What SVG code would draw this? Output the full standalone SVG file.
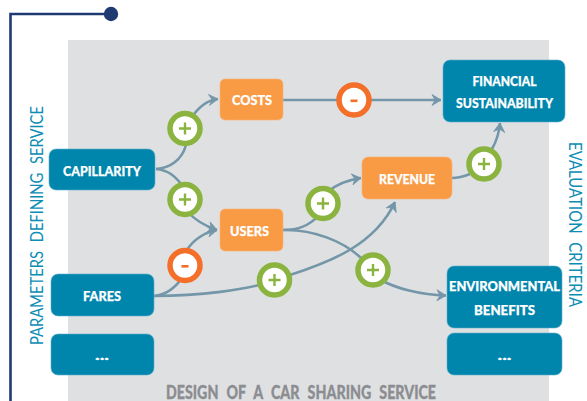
<svg xmlns="http://www.w3.org/2000/svg" width="587" height="401" viewBox="0 0 587 401">
<style>
text{font-family:"Lato","Open Sans","Liberation Sans",sans-serif;text-anchor:middle}
.b{fill:#0085ad;stroke:#5fb0cb;stroke-width:.6}
.o{fill:#f99a45;stroke:#fbb47a;stroke-width:.6}
.t{fill:#fff;stroke:#fff;stroke-width:.25;font-weight:900;font-size:14px}
.c{fill:none;stroke:#7396a8;stroke-width:2.6}
.a{fill:none;stroke:#7396a8;stroke-width:2.6;marker-end:url(#arr)}
.p{fill:#fff;stroke:#8ab43f;stroke-width:5.5}
.m{fill:#fff;stroke:#f36f2a;stroke-width:5.5}
.s{fill:#8ab43f}
.n{fill:#f36f2a}
.side{fill:#0e8db4;font-size:18px;word-spacing:6px}
</style>
<defs>
<marker id="arr" markerUnits="userSpaceOnUse" markerWidth="14" markerHeight="16" refX="11" refY="7" orient="auto" viewBox="0 0 14 14">
<path d="M2 1.500L11 7L2 12.500L5 7Z" fill="#7396a8" stroke="#7396a8" stroke-width=".8"/>
</marker>
</defs>
<rect x="68" y="40" width="481" height="361" fill="#dfe0e2"/>
<path d="M10.500 401V14H110" fill="none" stroke="#1f3a73" stroke-width="2.600"/>
<circle cx="111" cy="14" r="7.200" fill="#1f3a73"/>
<text transform="translate(43 225.500) rotate(-90)" class="side" textLength="239" lengthAdjust="spacingAndGlyphs">PARAMETERS DEFINING SERVICE</text>
<text transform="translate(569 224.500) rotate(90)" class="side" textLength="165" lengthAdjust="spacingAndGlyphs">EVALUATION CRITERIA</text>
<text x="301" y="398.500" fill="#8b8d91" stroke="#8b8d91" stroke-width=".3" font-weight="900" font-size="18" word-spacing="6" textLength="270" lengthAdjust="spacingAndGlyphs">DESIGN OF A CAR SHARING SERVICE</text>
<g id="connectors">
<path class="c" d="M156 169C170 168 182 160 186 145"/>
<path class="a" d="M190 120C198 107 208 100 218 99"/>
<path class="c" d="M156 169C167 170 176 175 185 190"/>
<path class="a" d="M188 212C195 220 205 226 217 230"/>
<path class="c" d="M154 296C165 295 175 288 182 278"/>
<path class="a" d="M187 250C193 240 205 232 217 230"/>
<path class="c" d="M154 296C200 296 245 290 274 281L290 275"/>
<path class="a" d="M290 275C330 262 375 245 395 202"/>
<path class="c" d="M283 230C298 230 310 225 318 216"/>
<path class="a" d="M328 192C336 184 348 180 361 178"/>
<path class="c" d="M283 230C310 229 345 240 365 262"/>
<path class="a" d="M381 280C395 288 420 295 446 295.500"/>
<path class="c" d="M283 100H340"/>
<path class="a" d="M368 100H441"/>
<path class="c" d="M452 178C460 178 465 176 470 174"/>
<path class="a" d="M492 149C496 142 499 134 500 123"/>
</g>
<g id="capillarity"><rect class="b" x="49" y="149" width="106" height="41" rx="7"/><text class="t" x="102" y="175.500" textLength="78" lengthAdjust="spacingAndGlyphs">CAPILLARITY</text></g>
<g id="costs"><rect class="o" x="220" y="79" width="63" height="41" rx="5"/><text class="t" x="252" y="105" textLength="40" lengthAdjust="spacingAndGlyphs">COSTS</text></g>
<g id="financial"><rect class="b" x="443" y="60" width="122" height="62" rx="7"/><text class="t" x="504.500" y="85.500" textLength="64" lengthAdjust="spacingAndGlyphs">FINANCIAL</text><text class="t" x="504.500" y="108" textLength="97" lengthAdjust="spacingAndGlyphs">SUSTAINABILITY</text></g>
<g id="revenue"><rect class="o" x="362" y="157" width="90" height="42" rx="6"/><text class="t" x="407" y="184" textLength="56" lengthAdjust="spacingAndGlyphs">REVENUE</text></g>
<g id="users"><rect class="o" x="220" y="209" width="63" height="42" rx="5"/><text class="t" x="249.500" y="235.500" textLength="39" lengthAdjust="spacingAndGlyphs">USERS</text></g>
<g id="fares"><rect class="b" x="51" y="274" width="103" height="42" rx="7"/><text class="t" x="102" y="301" textLength="38" lengthAdjust="spacingAndGlyphs">FARES</text></g>
<g id="params-more"><rect class="b" x="51" y="334" width="103" height="41" rx="7"/><text class="t" x="102" y="360" textLength="14" lengthAdjust="spacingAndGlyphs">...</text></g>
<g id="environmental"><rect class="b" x="447" y="266" width="115" height="62" rx="7"/><text class="t" x="504.500" y="291" textLength="111" lengthAdjust="spacingAndGlyphs">ENVIRONMENTAL</text><text class="t" x="504.500" y="315" textLength="61" lengthAdjust="spacingAndGlyphs">BENEFITS</text></g>
<g id="criteria-more"><rect class="b" x="447" y="333" width="115" height="42" rx="7"/><text class="t" x="504.500" y="359.500" textLength="14" lengthAdjust="spacingAndGlyphs">...</text></g>
<g id="badge1"><circle class="p" cx="185" cy="128.500" r="15"/><path class="s" d="M183.800 122.500h2.400v4.800h4.800v2.400h-4.800v4.800h-2.400v-4.800h-4.800v-2.400h4.800z"/></g>
<g id="badge2"><circle class="p" cx="185" cy="199.500" r="15"/><path class="s" d="M183.800 193.500h2.400v4.800h4.800v2.400h-4.800v4.800h-2.400v-4.800h-4.800v-2.400h4.800z"/></g>
<g id="badge3"><circle class="m" cx="185" cy="265.500" r="15"/><rect class="n" x="181.500" y="265" width="7" height="2.600"/></g>
<g id="badge4"><circle class="p" cx="274.500" cy="280" r="15"/><path class="s" d="M273.300 274h2.400v4.800h4.800v2.400h-4.800v4.800h-2.400v-4.800h-4.800v-2.400h4.800z"/></g>
<g id="badge5"><circle class="m" cx="354" cy="100" r="15"/><rect class="n" x="350.500" y="99.500" width="7" height="2.600"/></g>
<g id="badge6"><circle class="p" cx="484" cy="164" r="15"/><path class="s" d="M482.800 158h2.400v4.800h4.800v2.400h-4.800v4.800h-2.400v-4.800h-4.800v-2.400h4.800z"/></g>
<g id="badge7"><circle class="p" cx="323" cy="203.500" r="15"/><path class="s" d="M321.800 197.500h2.400v4.800h4.800v2.400h-4.800v4.800h-2.400v-4.800h-4.800v-2.400h4.800z"/></g>
<g id="badge8"><circle class="p" cx="373" cy="270" r="15"/><path class="s" d="M371.800 264h2.400v4.800h4.800v2.400h-4.800v4.800h-2.400v-4.800h-4.800v-2.400h4.800z"/></g>
</svg>
